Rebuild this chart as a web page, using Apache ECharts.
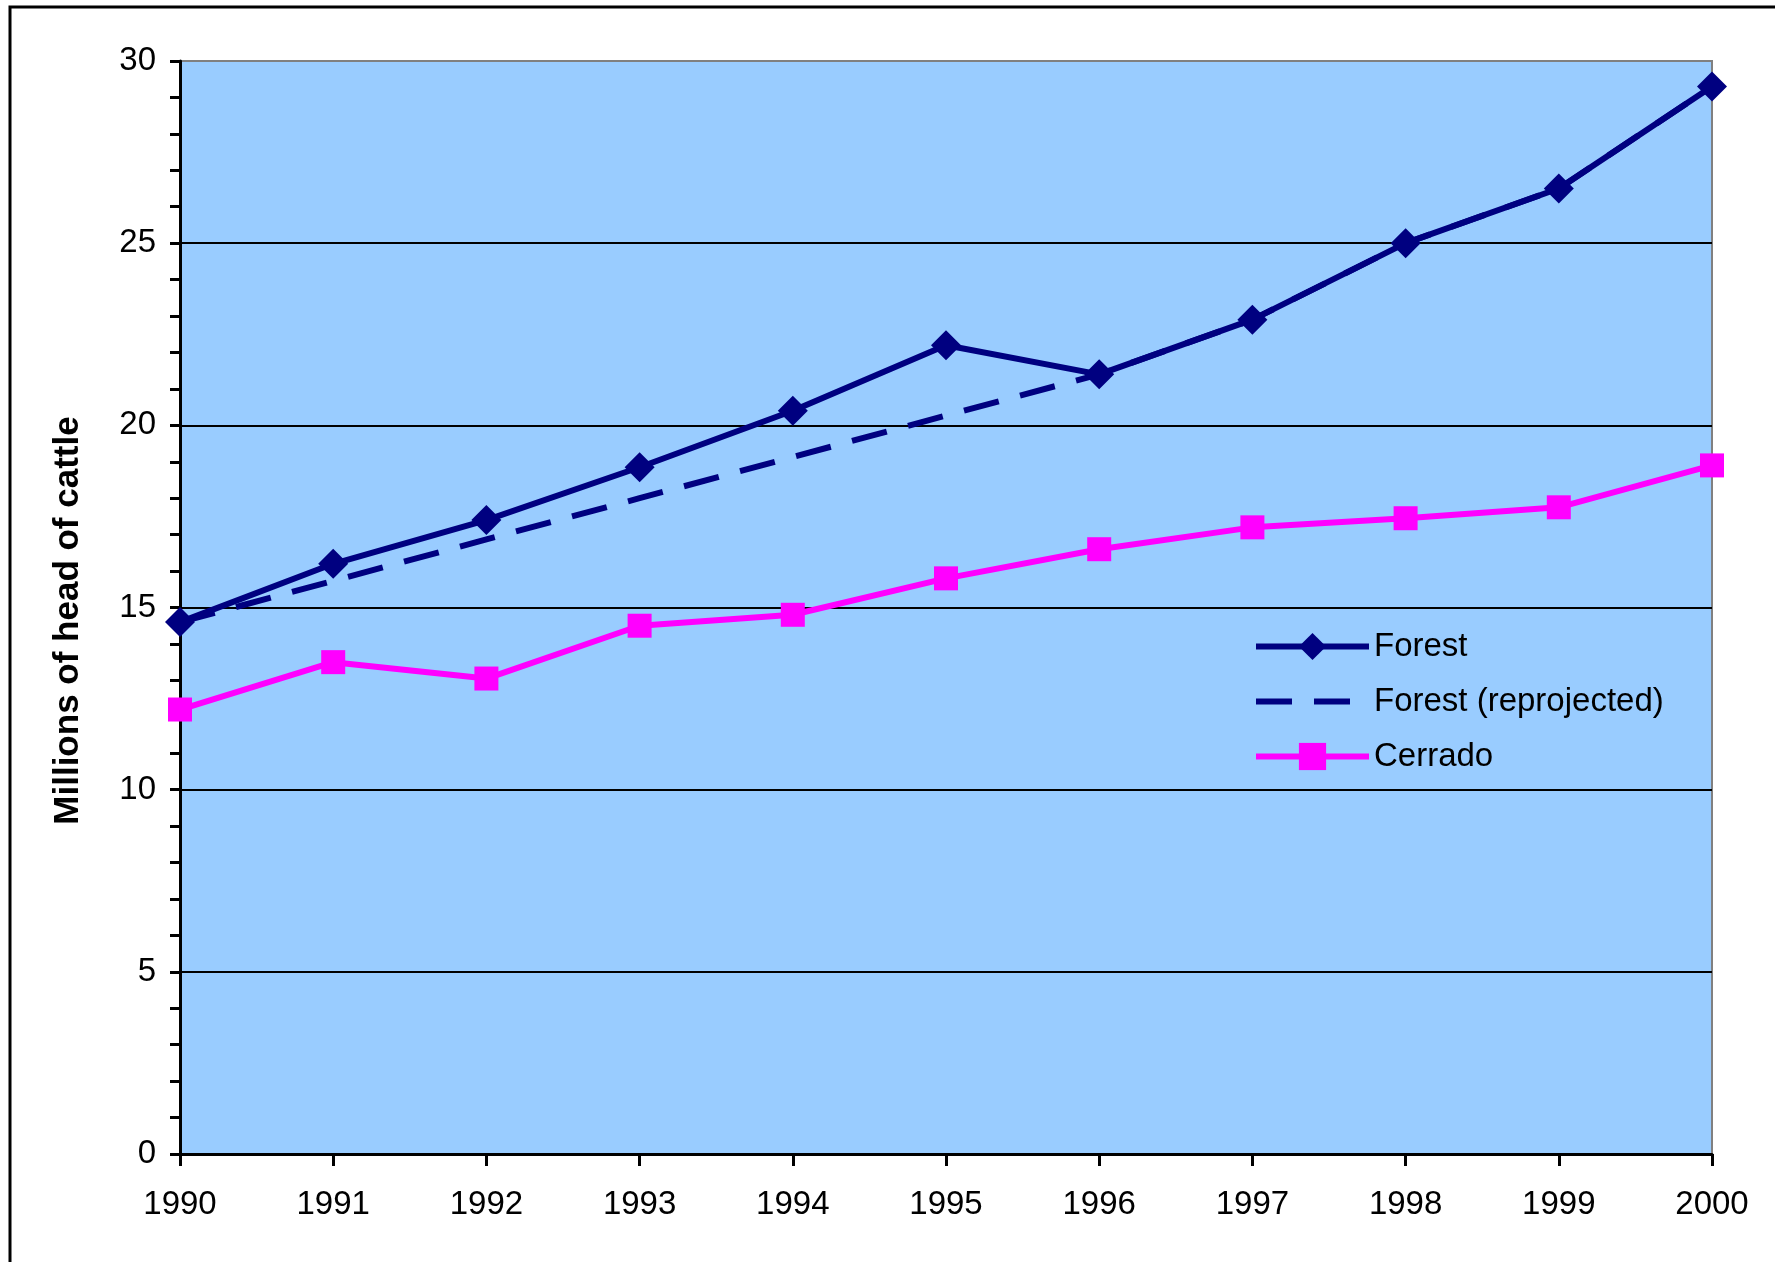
<!DOCTYPE html>
<html>
<head>
<meta charset="utf-8">
<title>Cattle herd</title>
<script src="https://cdn.jsdelivr.net/npm/echarts@6/dist/echarts.min.js"></script>
<style>
  html, body { margin: 0; padding: 0; background: #fff; }
  #chart { width: 1775px; height: 1262px; }
</style>
</head>
<body>
<div id="chart"></div>
<script>
// years on the x axis
const years = ["1990", "1991", "1992", "1993", "1994", "1995", "1996", "1997", "1998", "1999", "2000"];
// millions of head of cattle
const forest = [14.6, 16.2, 17.4, 18.85, 20.4, 22.2, 21.4, 22.9, 25.0, 26.5, 29.3];
const forestReprojected = [14.6, 15.73, 16.87, 18.0, 19.13, 20.27, 21.4, 22.9, 25.0, 26.5, 29.3];
const cerrado = [12.2, 13.5, 13.05, 14.5, 14.8, 15.8, 16.6, 17.2, 17.45, 17.75, 18.9];

const navy = "#000080";
const magenta = "#FF00FF";
const font = "'Liberation Sans', Arial, sans-serif";

const chart = echarts.init(document.getElementById("chart"));
chart.setOption({
  animation: false,
  textStyle: { fontFamily: font },
  graphic: [
    {
      // outer frame of the chart area (right/bottom edges fall outside)
      type: "rect",
      shape: { x: 10, y: 7, width: 2000, height: 2000 },
      style: { fill: "none", stroke: "#000", lineWidth: 3 },
      z: 100
    }
  ],
  grid: {
    left: 180,
    top: 61,
    right: 63,
    bottom: 108,
    show: true,
    backgroundColor: "#99CCFF",
    borderColor: "#808080",
    borderWidth: 2
  },
  legend: {
    orient: "vertical",
    left: 1253,
    top: 630,
    padding: 0,
    itemWidth: 113,
    itemHeight: 34,
    itemGap: 22,
    lineStyle: { width: 6 },
    textStyle: { fontSize: 33, color: "#000", fontFamily: font },
    data: ["Forest", "Forest (reprojected)", "Cerrado"]
  },
  xAxis: {
    type: "category",
    boundaryGap: false,
    data: years,
    axisLine: { lineStyle: { color: "#000", width: 3 } },
    axisTick: { length: 12, lineStyle: { color: "#000", width: 3 } },
    axisLabel: { fontSize: 33, color: "#000", margin: 34 }
  },
  yAxis: {
    type: "value",
    min: 0,
    max: 30,
    interval: 5,
    name: "Millions of head of cattle",
    nameLocation: "middle",
    nameGap: 94,
    // extra right padding nudges the rotated title down a little
    nameTextStyle: { fontSize: 35, fontWeight: "bold", color: "#000", padding: [0, 26, 0, 0] },
    axisLine: { show: true, lineStyle: { color: "#000", width: 3 } },
    axisTick: { show: true, length: 10, lineStyle: { color: "#000", width: 3 } },
    minorTick: { show: true, splitNumber: 5, length: 10, lineStyle: { color: "#000", width: 3 } },
    axisLabel: { fontSize: 33, color: "#000", margin: 24 },
    splitLine: {
      show: true,
      lineStyle: { color: ["#000", "#000", "#000", "#000", "#000", "#000", "#808080"], width: 2 }
    }
  },
  series: [
    {
      name: "Forest",
      type: "line",
      data: forest,
      symbol: "diamond",
      symbolSize: 30,
      lineStyle: { color: navy, width: 6 },
      itemStyle: { color: navy }
    },
    {
      name: "Forest (reprojected)",
      type: "line",
      data: forestReprojected,
      symbol: "none",
      lineStyle: { color: navy, width: 6, type: [36, 22] },
      itemStyle: { color: "rgba(0,0,0,0)" }
    },
    {
      name: "Cerrado",
      type: "line",
      data: cerrado,
      symbol: "rect",
      symbolSize: 24,
      lineStyle: { color: magenta, width: 6 },
      itemStyle: { color: magenta }
    }
  ]
});
</script>
</body>
</html>
